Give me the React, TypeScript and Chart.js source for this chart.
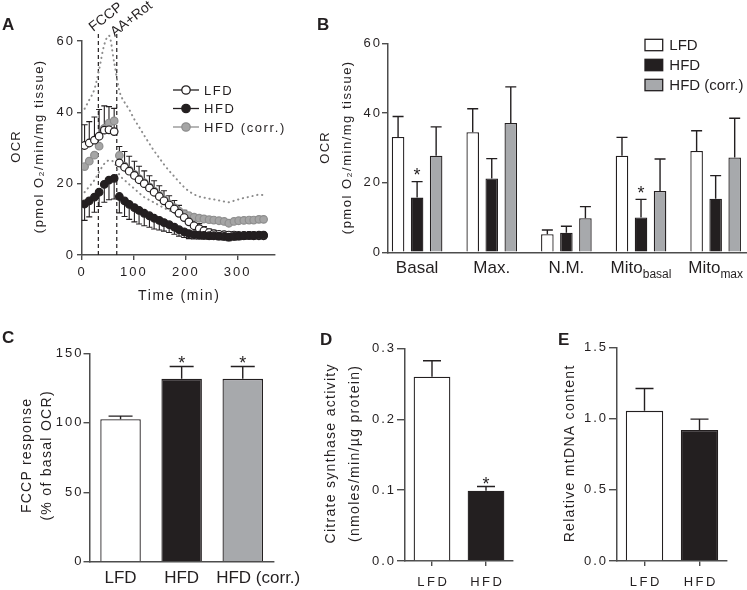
import React, { useEffect, useRef } from "react";
import { Chart, registerables } from "chart.js";
Chart.register(...registerables);

const W = 747;
const H = 590;
const FONT = "'Liberation Sans', Arial, Helvetica, sans-serif";
const INK = "#231f20";
const AXIS = "#4d4d4d";
const GREY = "#a7a9ac";
const GREY_PT = "#a5a5a5";
const BLACK = "#231f20";

// ---------- Panel A: OCR time course ----------
const seriesNames = ["LFD", "HFD", "HFD (corr.)"];
const timeMin = [5, 14, 24, 33, 43, 52, 62, 72, 82, 91, 101, 110, 120, 130, 139, 149, 158, 168, 178, 187, 197, 206, 216, 226, 235, 245, 254, 264, 274, 283, 293, 302, 312, 322, 331, 341, 350];
const ocrLFD = [30.7, 31.4, 32.2, 33.3, 35.0, 35.1, 34.6, 25.8, 24.6, 23.5, 22.3, 21.1, 20.0, 18.8, 17.6, 16.4, 15.2, 14.0, 12.9, 11.7, 10.5, 9.3, 8.2, 7.4, 6.8, 6.3, 6.0, 5.8, 5.7, 5.6, 5.6, 5.5, 5.5, 5.5, 5.4, 5.4, 5.4];
const semLFD = [5.8, 6.0, 6.5, 7.5, 6.8, 6.5, 6.5, 4.6, 4.4, 4.2, 4.0, 3.8, 3.6, 3.4, 3.2, 3.0, 2.8, 2.6, 2.4, 2.2, 2.0, 1.8, 1.6, 1.4, 1.2, 1.0, 0.9, 0.8, 0.8, 0.8, 0.8, 0.8, 0.8, 0.8, 0.8, 0.8, 0.8];
const ocrHFD = [14.3, 15.2, 16.2, 17.6, 19.8, 21.0, 21.5, 16.4, 15.2, 14.2, 13.3, 12.5, 11.7, 11.0, 10.3, 9.7, 9.1, 8.5, 7.8, 7.1, 6.5, 6.0, 5.7, 5.6, 5.5, 5.4, 5.4, 5.3, 5.2, 5.0, 5.2, 5.3, 5.4, 5.5, 5.5, 5.6, 5.6];
const semHFD = [4.6, 4.5, 4.2, 4.0, 5.0, 5.5, 5.8, 4.6, 4.4, 4.2, 4.0, 3.8, 3.5, 3.2, 3.0, 2.7, 2.4, 2.2, 2.0, 1.8, 1.6, 1.4, 1.2, 1.1, 1.0, 1.0, 1.0, 1.0, 1.0, 1.0, 1.0, 1.0, 1.0, 1.0, 1.0, 1.0, 1.0];
const ocrHFDcorr = [24.8, 26.3, 28.0, 30.5, 35.5, 37.0, 37.6, 27.9, 24.9, 23.8, 22.6, 21.4, 20.3, 19.1, 17.9, 16.7, 15.5, 14.3, 13.3, 12.3, 11.5, 11.0, 10.6, 10.3, 10.1, 9.9, 9.8, 9.6, 9.4, 8.9, 9.4, 9.6, 9.7, 9.8, 9.8, 10.0, 10.0];
const corrUpper = [41, 43.5, 46.5, 52, 59, 61.5, 54, 46, 42.8, 40.8, 38, 35.9, 33.5, 31.2, 29.2, 27.2, 25.4, 23.6, 22, 20.5, 19, 17.9, 17, 16.4, 16.1, 15.8, 15.6, 15.3, 15.0, 14.8, 15.2, 15.6, 16.0, 16.3, 16.6, 16.9, 16.8];
const corrLower = [17.6, 19.2, 21.0, 23.3, 25.6, 26.5, 26.0, 22.5, 21.0, 19.8, 18.6, 17.4, 16.2, 15.4, 14.7, 13.9, 13.2, 12.5, 11.8, 11.2, 10.6, 10.1, 9.7, 9.3, null, null, null, null, null, null, null, null, null, null, null, null, null];
const injections = [{ label: "FCCP", t: 31.5 }, { label: "AA+Rot", t: 67 }];
const aXTicks = [0, 100, 200, 300];
const aYTicks = [0, 20, 40, 60];

// ---------- Panel B ----------
const bCategories = ["Basal", "Max.", "N.M.", "Mito", "Mito"];
const bSubscripts = ["", "", "", "basal", "max"];
const bLFD = [33.1, 34.5, 5.2, 27.7, 29.1];
const bLFDerr = [5.9, 6.7, 1.2, 5.3, 5.8];
const bHFD = [15.7, 21.2, 5.6, 10.0, 15.4];
const bHFDerr = [4.6, 5.7, 1.9, 5.2, 6.6];
const bCorr = [27.7, 37.1, 9.8, 17.6, 27.2];
const bCorrErr = [8.3, 10.4, 3.3, 9.2, 11.3];
const bHFDsig = [true, false, false, true, false];
const bYTicks = [0, 20, 40, 60];

// ---------- Panel C ----------
const cCategories = ["LFD", "HFD", "HFD (corr.)"];
const cValues = [102.6, 131.6, 131.6];
const cErr = [2.2, 8.9, 8.9];
const cSig = [false, true, true];
const cYTicks = [0, 50, 100, 150];

// ---------- Panel D ----------
const dCategories = ["LFD", "HFD"];
const dValues = [0.26, 0.099];
const dErr = [0.0225, 0.006];
const dSig = [false, true];
const dYTicks = [0, 0.1, 0.2, 0.3];

// ---------- Panel E ----------
const eCategories = ["LFD", "HFD"];
const eValues = [1.056, 0.922];
const eErr = [0.157, 0.076];
const eSig = [false, false];
const eYTicks = [0, 0.5, 1.0, 1.5];

// ---------- helpers ----------
type TOpt = { size?: number; bold?: boolean; align?: CanvasTextAlign; baseline?: CanvasTextBaseline; spacing?: number; rot?: number; color?: string };
function text(ctx: CanvasRenderingContext2D, str: string, x: number, y: number, o: TOpt = {}) {
  ctx.save();
  ctx.font = `${o.bold ? "bold " : ""}${o.size ?? 13}px ${FONT}`;
  ctx.fillStyle = o.color ?? INK;
  const sp = o.spacing ?? 0;
  (ctx as any).letterSpacing = `${sp}px`;
  const align = o.align ?? "left";
  ctx.textAlign = align;
  ctx.textBaseline = o.baseline ?? "alphabetic";
  ctx.translate(x, y);
  if (o.rot) ctx.rotate((o.rot * Math.PI) / 180);
  const shift = align === "center" ? sp / 2 : align === "right" ? sp : 0;
  ctx.fillText(str, shift, 0);
  ctx.restore();
}

function textWidth(ctx: CanvasRenderingContext2D, str: string, size: number) {
  ctx.save();
  (ctx as any).letterSpacing = "0px";
  ctx.font = `${size}px ${FONT}`;
  const w = ctx.measureText(str).width;
  ctx.restore();
  return w;
}

function spacingPlugin(map: Record<string, number>) {
  return {
    id: "spacing",
    beforeDraw(chart: any) {
      for (const id of Object.keys(map)) {
        const s = chart.scales[id];
        if (!s || s.__sp) continue;
        s.__sp = true;
        const orig = s.drawLabels;
        s.drawLabels = function (a: any) {
          const ctx = this.ctx;
          const prev = ctx.letterSpacing;
          ctx.letterSpacing = map[id] + "px";
          orig.call(this, a);
          ctx.letterSpacing = prev || "0px";
        };
      }
    },
  };
}

function pad(area: { l: number; t: number; r: number; b: number }, yw: number, xh: number) {
  return { left: area.l - yw, top: area.t, right: W - area.r, bottom: H - area.b - xh };
}

function yScale(min: number, max: number, ticks: number[], fmt: (v: number) => string, tl: number, padding: number, yw: number) {
  return {
    type: "linear",
    min,
    max,
    position: "left",
    afterBuildTicks: (s: any) => {
      s.ticks = ticks.map((v) => ({ value: v }));
    },
    afterFit: (s: any) => {
      s.width = yw;
    },
    grid: { display: true, drawOnChartArea: false, drawTicks: true, tickLength: tl, color: AXIS, lineWidth: 1.4 },
    border: { display: true, color: AXIS, width: 1.5 },
    ticks: { color: INK, font: { family: FONT, size: 13 }, padding, callback: (v: any) => fmt(Number(v)) },
  };
}

function catXScale(tickMarks: boolean, xh: number) {
  return {
    type: "category",
    offset: true,
    afterFit: (s: any) => {
      s.height = xh;
    },
    grid: { display: tickMarks, offset: false, drawOnChartArea: false, drawTicks: true, tickLength: 5, color: AXIS, lineWidth: 1.4 },
    border: { display: true, color: AXIS, width: 1.5 },
    ticks: { display: false },
  };
}

function star(ctx: CanvasRenderingContext2D, x: number, cy: number, size: number) {
  text(ctx, "*", x, cy + 0.57 * size, { size, align: "center" });
}

function drawBarErrors(chart: any, errs: number[][], capHalf: number, sig: boolean[][] | null, starGap: number, starSize: number) {
  const ctx: CanvasRenderingContext2D = chart.ctx;
  const ys = chart.scales.y;
  ctx.save();
  ctx.strokeStyle = INK;
  ctx.lineWidth = 1.4;
  chart.data.datasets.forEach((ds: any, di: number) => {
    const meta = chart.getDatasetMeta(di);
    meta.data.forEach((el: any, j: number) => {
      const raw = ds.data[j];
      const v = typeof raw === "object" ? raw.y : raw;
      const top = ys.getPixelForValue(v + errs[di][j]);
      ctx.beginPath();
      ctx.moveTo(el.x, el.y);
      ctx.lineTo(el.x, top);
      ctx.moveTo(el.x - capHalf, top);
      ctx.lineTo(el.x + capHalf, top);
      ctx.stroke();
      if (sig && sig[di][j]) star(ctx, el.x, top - starGap, starSize);
    });
  });
  ctx.restore();
}

const baseOptions = {
  responsive: false,
  animation: false,
  devicePixelRatio: 1,
  events: [],
  plugins: { legend: { display: false }, tooltip: { enabled: false } },
};

// ---------- Panel A config ----------
function makeA(): any {
  const area = { l: 82, t: 41, r: 275, b: 255 };
  const pts = (arr: (number | null)[]) => timeMin.map((t, i) => ({ x: t, y: arr[i] }));
  const marker = (data: any, fill: string, border: string, order: number, errs: number[] | null, dir: number) => ({
    data,
    showLine: false,
    pointRadius: 3.8,
    pointBackgroundColor: fill,
    pointBorderColor: border,
    pointBorderWidth: 1.2,
    order,
    errs,
    dir,
  });
  const dotted = (data: any) => ({
    data,
    showLine: true,
    pointRadius: 0,
    borderColor: "#8c8c8c",
    borderWidth: 2,
    borderDash: [0.3, 4.6],
    borderCapStyle: "round",
    cubicInterpolationMode: "monotone",
    spanGaps: false,
    clip: false,
    order: 5,
  });
  return {
    type: "line",
    data: {
      datasets: [
        dotted(pts(corrUpper)),
        dotted(pts(corrLower)),
        marker(pts(ocrHFDcorr), GREY_PT, "#8e8e8e", 2, null, 1),
        marker(pts(ocrLFD), "#ffffff", INK, 1, semLFD, 1),
        marker(pts(ocrHFD), BLACK, BLACK, 0, semHFD, -1),
      ],
    },
    options: {
      ...baseOptions,
      layout: { padding: pad(area, 42, 30) },
      scales: {
        x: {
          type: "linear",
          min: 0,
          max: 372,
          afterBuildTicks: (s: any) => {
            s.ticks = aXTicks.map((v) => ({ value: v }));
          },
          afterFit: (s: any) => {
            s.height = 30;
          },
          grid: { display: true, drawOnChartArea: false, drawTicks: true, tickLength: 5, color: AXIS, lineWidth: 1.4 },
          border: { display: true, color: AXIS, width: 1.5 },
          ticks: { color: INK, font: { family: FONT, size: 13 }, padding: 5, maxRotation: 0, autoSkip: false },
        },
        y: yScale(0, 60, aYTicks, (v) => String(v), 5, 2, 42),
      },
    },
    plugins: [
      spacingPlugin({ x: 2, y: 2 }),
      {
        id: "extraA",
        beforeDatasetsDraw(chart: any) {
          const ctx: CanvasRenderingContext2D = chart.ctx;
          const xs = chart.scales.x, ys = chart.scales.y;
          ctx.save();
          ctx.strokeStyle = INK;
          ctx.lineWidth = 1.2;
          ctx.setLineDash([4, 3]);
          injections.forEach((inj) => {
            const px = xs.getPixelForValue(inj.t);
            ctx.beginPath();
            ctx.moveTo(px, 34);
            ctx.lineTo(px, ys.getPixelForValue(0));
            ctx.stroke();
          });
          ctx.restore();
          ctx.save();
          ctx.strokeStyle = INK;
          ctx.lineWidth = 1.1;
          chart.data.datasets.forEach((ds: any) => {
            if (!ds.errs) return;
            ds.data.forEach((p: any, i: number) => {
              const x = xs.getPixelForValue(p.x);
              const y0 = ys.getPixelForValue(p.y);
              const y1 = ys.getPixelForValue(p.y + ds.dir * ds.errs[i]);
              ctx.beginPath();
              ctx.moveTo(x, y0);
              ctx.lineTo(x, y1);
              ctx.moveTo(x - 3, y1);
              ctx.lineTo(x + 3, y1);
              ctx.stroke();
            });
          });
          ctx.restore();
        },
        afterDraw(chart: any) {
          const ctx: CanvasRenderingContext2D = chart.ctx;
          const xs = chart.scales.x;
          text(ctx, "A", 2, 30, { size: 17, bold: true });
          const fx = xs.getPixelForValue(injections[0].t);
          const ax = xs.getPixelForValue(injections[1].t);
          text(ctx, injections[0].label, fx - 5, 32, { size: 14, rot: -38 });
          text(ctx, injections[1].label, ax - 2, 37, { size: 14, rot: -38 });
          text(ctx, "OCR", 16.7, 147, { size: 13, spacing: 1.2, rot: -90, align: "center", baseline: "middle" });
          text(ctx, "(pmol O\u2082/min/mg tissue)", 39, 147, { size: 13, spacing: 1.5, rot: -90, align: "center", baseline: "middle" });
          text(ctx, "Time (min)", 178.5, 300, { size: 14, spacing: 1.6, align: "center" });
          const rows = [90, 108.5, 127];
          const fills = ["#ffffff", BLACK, GREY_PT];
          const borders = [INK, BLACK, "#8e8e8e"];
          rows.forEach((ry, i) => {
            ctx.save();
            ctx.strokeStyle = i === 2 ? "#8e8e8e" : INK;
            ctx.lineWidth = 1.3;
            ctx.beginPath();
            ctx.moveTo(173, ry);
            ctx.lineTo(199, ry);
            ctx.stroke();
            ctx.beginPath();
            ctx.arc(186, ry, 4.2, 0, Math.PI * 2);
            ctx.fillStyle = fills[i];
            ctx.fill();
            ctx.strokeStyle = borders[i];
            ctx.stroke();
            ctx.restore();
            text(ctx, seriesNames[i], 204, ry + 4.7, { size: 13, spacing: 1.6 });
          });
        },
      },
    ],
  };
}

// ---------- Panel B config ----------
function makeB(): any {
  const area = { l: 388, t: 43.3, r: 747, b: 252.3 };
  const toXY = (arr: number[]) => arr.map((v, i) => ({ x: i, y: v }));
  const ds = (data: number[], fill: string) => ({
    data: toXY(data),
    backgroundColor: fill,
    borderColor: INK,
    borderWidth: 1.3,
    barPercentage: 0.66,
    categoryPercentage: 0.765,
  });
  return {
    type: "bar",
    data: { datasets: [ds(bLFD, "#ffffff"), ds(bHFD, BLACK), ds(bCorr, GREY)] },
    options: {
      ...baseOptions,
      layout: { padding: pad(area, 42, 30) },
      scales: {
        x: {
          type: "linear",
          offset: false,
          min: -0.39,
          max: 4.42,
          afterFit: (s: any) => {
            s.height = 30;
          },
          grid: { display: false, offset: false },
          border: { display: true, color: AXIS, width: 1.5 },
          ticks: { display: false },
        },
        y: yScale(0, 60, bYTicks, (v) => String(v), 6, 0, 42),
      },
    },
    plugins: [
      spacingPlugin({ y: 2 }),
      {
        id: "extraB",
        afterDatasetsDraw(chart: any) {
          drawBarErrors(chart, [bLFDerr, bHFDerr, bCorrErr], 5.5, [bLFD.map(() => false), bHFDsig, bCorr.map(() => false)], 10.5, 18);
        },
        afterDraw(chart: any) {
          const ctx: CanvasRenderingContext2D = chart.ctx;
          const xs = chart.scales.x;
          text(ctx, "B", 317, 30, { size: 17, bold: true });
          text(ctx, "OCR", 325, 148, { size: 13, spacing: 1.2, rot: -90, align: "center", baseline: "middle" });
          text(ctx, "(pmol O\u2082/min/mg tissue)", 347.5, 148, { size: 13, spacing: 1.5, rot: -90, align: "center", baseline: "middle" });
          bCategories.forEach((c, i) => {
            const cx = xs.getPixelForValue(i);
            const w1 = textWidth(ctx, c, 17);
            const w2 = bSubscripts[i] ? textWidth(ctx, bSubscripts[i], 12) : 0;
            let x0 = cx - (w1 + w2) / 2;
            if (x0 + w1 + w2 > W - 1) x0 = W - 1 - w1 - w2;
            text(ctx, c, x0, 272.8, { size: 17 });
            if (bSubscripts[i]) text(ctx, bSubscripts[i], x0 + w1, 277.5, { size: 12 });
          });
          const rows = [45, 65, 85];
          const fills = ["#ffffff", BLACK, GREY];
          rows.forEach((ry, i) => {
            ctx.save();
            ctx.fillStyle = fills[i];
            ctx.strokeStyle = INK;
            ctx.lineWidth = 1.3;
            ctx.fillRect(645, ry - 5.7, 17.7, 11.4);
            ctx.strokeRect(645, ry - 5.7, 17.7, 11.4);
            ctx.restore();
            text(ctx, seriesNames[i], 669.3, ry + 5.4, { size: 15 });
          });
        },
      },
    ],
  };
}

// ---------- Panel C config ----------
function makeC(): any {
  const area = { l: 90, t: 353.3, r: 273.3, b: 561.7 };
  return {
    type: "bar",
    data: {
      labels: cCategories,
      datasets: [
        {
          data: cValues,
          backgroundColor: ["#ffffff", BLACK, GREY],
          borderColor: INK,
          borderWidth: 1.3,
          barPercentage: 0.663,
          categoryPercentage: 1,
        },
      ],
    },
    options: {
      ...baseOptions,
      layout: { padding: pad(area, 42, 26) },
      scales: { x: catXScale(false, 26), y: yScale(0, 150, cYTicks, (v) => String(v), 6.5, 0, 42) },
    },
    plugins: [
      spacingPlugin({ y: 2 }),
      {
        id: "extraC",
        afterDatasetsDraw(chart: any) {
          drawBarErrors(chart, [cErr], 12, [cSig], 7.5, 18);
        },
        afterDraw(chart: any) {
          const ctx: CanvasRenderingContext2D = chart.ctx;
          const xs = chart.scales.x;
          text(ctx, "C", 2, 343, { size: 17, bold: true });
          text(ctx, "FCCP response", 27.5, 456, { size: 14, spacing: 1.2, rot: -90, align: "center", baseline: "middle" });
          text(ctx, "(% of basal OCR)", 47.5, 456, { size: 14, spacing: 1.3, rot: -90, align: "center", baseline: "middle" });
          const catW = xs.width / cCategories.length;
          cCategories.forEach((c, i) => {
            const px = xs.getPixelForValue(i);
            const w = textWidth(ctx, c, 17);
            if (w > catW) text(ctx, c, px - catW / 2 + 4, 582.8, { size: 17 });
            else text(ctx, c, px, 582.8, { size: 17, align: "center" });
          });
        },
      },
    ],
  };
}

// ---------- Panel D / E config ----------
function makeSmall(
  letter: string,
  lx: number,
  area: { l: number; t: number; r: number; b: number },
  cats: string[],
  vals: number[],
  errs: number[],
  sig: boolean[],
  yTicks: number[],
  yMax: number,
  titles: { text: string; x: number }[],
  tl: number,
  padding: number
): any {
  return {
    type: "bar",
    data: {
      labels: cats,
      datasets: [
        {
          data: vals,
          backgroundColor: ["#ffffff", BLACK],
          borderColor: INK,
          borderWidth: 1.3,
          barPercentage: 0.68,
          categoryPercentage: 1,
        },
      ],
    },
    options: {
      ...baseOptions,
      layout: { padding: pad(area, 42, 26) },
      scales: { x: catXScale(true, 26), y: yScale(0, yMax, yTicks, (v) => v.toFixed(1), tl, padding, 42) },
    },
    plugins: [
      spacingPlugin({ y: 2 }),
      {
        id: "extra" + letter,
        afterDatasetsDraw(chart: any) {
          drawBarErrors(chart, [errs], 9, [sig], 6.7, 18);
        },
        afterDraw(chart: any) {
          const ctx: CanvasRenderingContext2D = chart.ctx;
          const xs = chart.scales.x;
          text(ctx, letter, lx, 345, { size: 17, bold: true });
          titles.forEach((t) => text(ctx, t.text, t.x, 454, { size: 14, spacing: 1.3, rot: -90, align: "center", baseline: "middle" }));
          cats.forEach((c, i) => text(ctx, c, xs.getPixelForValue(i), 585.7, { size: 13, spacing: 2.5, align: "center" }));
        },
      },
    ],
  };
}

function makeD(): any {
  return makeSmall(
    "D",
    320,
    { l: 405, t: 348.3, r: 513, b: 561 },
    dCategories,
    dValues,
    dErr,
    dSig,
    dYTicks,
    0.3,
    [
      { text: "Citrate synthase activity", x: 331.5 },
      { text: "(nmoles/min/\u00b5g protein)", x: 355 },
    ],
    8,
    1
  );
}

function makeE(): any {
  return makeSmall(
    "E",
    558,
    { l: 617, t: 347.7, r: 727, b: 561 },
    eCategories,
    eValues,
    eErr,
    eSig,
    eYTicks,
    1.5,
    [{ text: "Relative mtDNA content", x: 570 }],
    8,
    1
  );
}

const makers = [makeA, makeB, makeC, makeD, makeE];

export default function App() {
  const refs = useRef<(HTMLCanvasElement | null)[]>([]);
  useEffect(() => {
    const charts = makers.map((mk, i) => new Chart(refs.current[i] as HTMLCanvasElement, mk()));
    return () => charts.forEach((c) => c.destroy());
  }, []);
  return (
    <div style={{ position: "absolute", left: 0, top: 0, width: W, height: H, background: "#ffffff", overflow: "hidden" }}>
      {makers.map((_, i) => (
        <canvas
          key={i}
          ref={(el) => {
            refs.current[i] = el;
          }}
          width={W}
          height={H}
          style={{ position: "absolute", left: 0, top: 0, width: W, height: H }}
        />
      ))}
    </div>
  );
}
